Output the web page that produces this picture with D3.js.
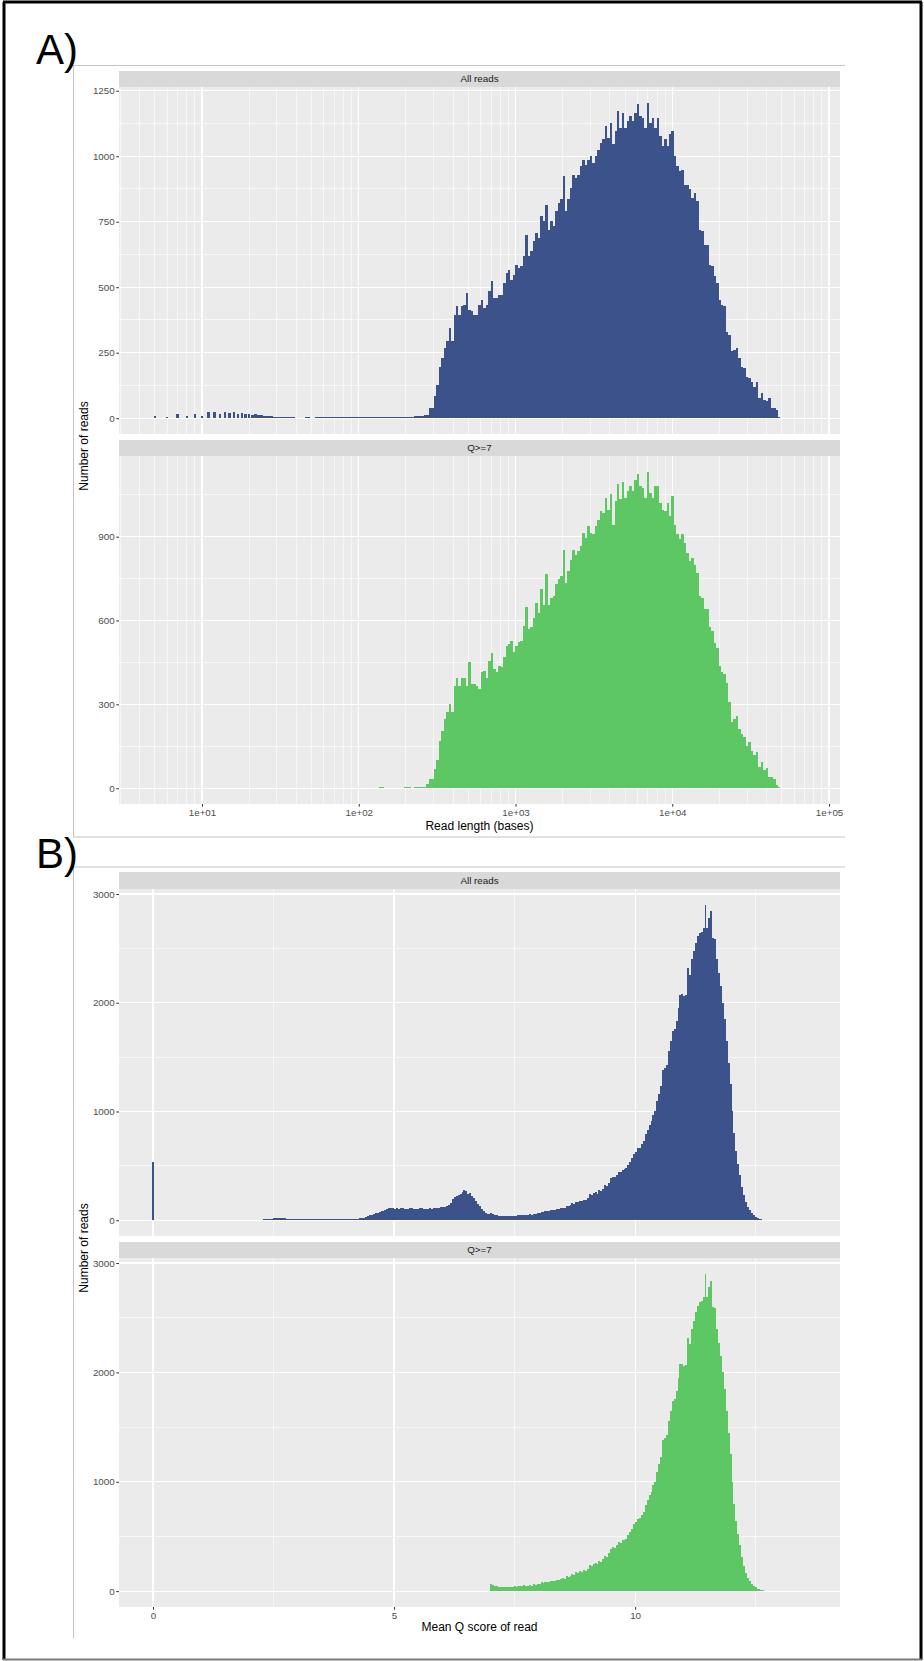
<!DOCTYPE html>
<html>
<head>
<meta charset="utf-8">
<script src="https://cdn.jsdelivr.net/npm/d3@7"></script>
<style>
body { margin: 0; background: #fff; }
svg { display: block; }
text { font-family: "Liberation Sans", Arial, Helvetica, sans-serif; }
</style>
</head>
<body>
<script>
// ---- A) read length histograms (log10 bins) ----
const lenBinStart = 1.467;   // log10 of left edge of first bin
const lenBinWidth = 0.0158;  // bin width in log10 units

// very short reads, one bar per integer length
const shortLengths = [5,6,7,8,9,10,11,12,13,14,15,16,17,18,19,20,21,22,23,24,25,26,27,28,29];
const shortAll = [10,5,18,10,17,8,22,24,16,25,20,22,18,20,16,17,14,15,12,12,10,10,8,7,6];

const lenAll = [
  6,5,5,5,4,4,4,4,0,0, 0,0,4,4,0,0,4,4,4,3, 4,4,3,4,4,4,3,4,4,4,
  4,4,4,4,4,4,5,4,4,5, 5,5,5,5,5,5,5,5,5,5, 5,5,5,6,6,6,7,7,8,9,
  13,13,38,38,83,127,197,230,268,293,
  344,293,395,427,395,427,433,478,414,408,
  395,395,433,452,420,433,484,522,459,459,
  471,471,516,554,567,528,548,586,573,580,
  618,701,618,637,675,707,688,771,752,815,
  720,752,733,790,822,835,924,790,835,879,
  930,917,930,962,987,968,987,1000,975,1000,
  1025,1051,1064,1115,1070,1127,1045,1096,1172,
  1108,1166,1108,1134,1153,1134,1166,1198,1153,1146,
  1108,1204,1127,1146,1108,1146,1076,1038,1064,1038,
  1083,1096,1000,962,943,949,892,892,873,841,
  860,828,720,713,662,662,586,580,541,516,
  452,433,427,331,318,255,261,268,229,197,
  191,159,153,140,121,140,76,96,70,64,
  76,38,38,32,6
];

const lenQ7 = [
  0,0,0,0,0,0,0,0,0,0, 0,0,0,0,0,0,0,0,0,0, 0,0,0,0,0,0,0,0,0,0,
  0,0,0,0,0,0,0,0,0,0, 0,0,3,3,0,0,0,0,0,0, 0,0,3,3,3,0,4,4,5,5,
  6,15,33,33,69,102,170,206,248,271,
  301,271,367,396,367,396,396,367,450,372,
  372,367,355,414,420,396,456,483,426,414,
  438,432,468,510,515,527,486,510,522,527,
  581,648,569,575,610,664,628,712,657,765,
  657,681,688,729,747,759,854,735,776,818,
  854,836,848,866,914,896,938,914,908,938,
  961,991,985,1039,997,1051,943,1027,1087,1033,
  1094,1039,1063,1080,1063,1104,1125,1080,1075,1039,
  1132,1057,1039,1080,1080,1021,997,991,1021,973,
  1045,943,908,890,908,878,842,812,824,800,
  771,687,681,640,640,575,563,521,503,438,
  416,408,378,307,236,248,259,212,194,182,
  152,164,134,117,131,75,93,65,71,39,
  39,33,10,3
];

const lenTicks = [10, 100, 1000, 10000, 100000];
const lenTickLabels = ["1e+01", "1e+02", "1e+03", "1e+04", "1e+05"];
const lenYTicksAll = [0, 250, 500, 750, 1000, 1250];
const lenYTicksQ7 = [0, 300, 600, 900];

// ---- B) mean Q score histograms ----
const qZero = [0];          // reads with a mean Q of 0
const qZeroCount = [540];
const qBinStart = 1.6;
const qBinWidth = 0.04;
const qAll = [
  0,3,0,0,3,0,0,3,0,3,3,0,4,3,4,5,5,
  8,10,12,14,15,18,17,20,19,18,16,17,15,14,13,12,
  12,11,12,10,11,9,10,9,10,8,9,
  8,9,7,8,9,8,7,8,9,10,8,7,8,9,8,9,10,9,8,10,11,12,14,16,
  20,25,32,40,46,52,56,62,
  70,76,82,86,92,100,108,116,112,
  105,110,104,108,112,106,100,104,108,110,104,102,106,110,108,104,100,106,110,104,108,112,115,110,118,120,125,130,140,
  160,193,210,223,235,245,260,278,270,
  239,250,223,200,177,150,132,101,85,70,60,55,
  // Q >= 7
  64,60,49,46,40,38,37,36,37,38,
  40,39,43,42,48,46,49,52,47,50,
  53,49,61,58,67,64,80,74,82,86,
  83,92,90,96,104,100,110,117,113,135,
  130,140,156,150,172,165,181,178,190,187,
  200,239,232,250,258,245,279,270,290,325,
  315,345,386,402,395,420,448,440,463,470,
  480,509,540,570,610,632,662,665,700,724,
  790,831,880,908,970,1000,1092,1160,1230,1383,
  1400,1429,1560,1644,1736,1760,1828,1950,2073,2080,
  2058,2070,2319,2257,2400,2472,2549,2610,2641,2650,
  2687,2901,2690,2782,2840,2595,2590,2400,2273,2150,
  2000,1850,1650,1450,1250,1000,800,640,520,420,
  310,230,170,120,95,65,48,34,22,15,
  10,6,4,3,
  3,3,0,3,0,3,0,0,3,0,0,3,0,0
];
const qTicks = [0, 5, 10];
const qYTicks = [0, 1000, 2000, 3000];
const qCut = 7;

// ---- page ----
const W = 924, H = 1661;
const blue = "#3B528B", green = "#5DC863";
const px0 = 119, px1 = 840;

const svg = d3.select("body").append("svg").attr("width", W).attr("height", H);

// outer frame
svg.append("line").attr("x1", 4).attr("y1", 2).attr("x2", 4).attr("y2", 1660).attr("stroke", "#000").attr("stroke-width", 3);
svg.append("line").attr("x1", 3).attr("y1", 2).attr("x2", 922).attr("y2", 2).attr("stroke", "#000").attr("stroke-width", 3);
svg.append("line").attr("x1", 921).attr("y1", 2).attr("x2", 921).attr("y2", 1660).attr("stroke", "#000").attr("stroke-width", 3);
svg.append("line").attr("x1", 3).attr("y1", 1659.5).attr("x2", 922).attr("y2", 1659.5).attr("stroke", "#7a7a7a").attr("stroke-width", 2);

// light outlines of the two pasted figures
const outline = "#c4c4c4";
[[74, 65.5, 845, 65.5], [73.5, 65, 73.5, 837], [73, 837, 845, 837],
 [73, 867, 845, 867], [73.5, 867, 73.5, 1638]].forEach(l => {
  svg.append("line").attr("x1", l[0]).attr("y1", l[1]).attr("x2", l[2]).attr("y2", l[3])
    .attr("stroke", outline).attr("stroke-width", 1);
});

svg.append("text").attr("x", 36).attr("y", 64).attr("font-size", 42).attr("fill", "#000").text("A)");
svg.append("text").attr("x", 36).attr("y", 868).attr("font-size", 42).attr("fill", "#000").text("B)");

const xLen = d3.scaleLog().domain([10 ** 0.4705, 10 ** 5.07]).range([px0, px1]);
const xQ = d3.scaleLinear().domain([-0.705, 14.25]).range([px0, px1]);

function yFor(max, top, bottom) {
  const pad = max * 0.05;
  return d3.scaleLinear().domain([-pad, max + pad]).range([bottom, top]);
}

function halfSteps(ticks, y) {
  const step = ticks[1] - ticks[0];
  const dom = y.domain();
  return [ticks[0] - step / 2].concat(ticks.map(t => t + step / 2)).filter(v => v > dom[0] && v < dom[1]);
}

function panel(o) {
  const g = svg.append("g");
  const y = o.y, x = o.x;
  // strip
  g.append("rect").attr("x", px0).attr("y", o.stripTop).attr("width", px1 - px0).attr("height", o.top - o.stripTop)
    .attr("fill", "#d9d9d9");
  g.append("text").attr("x", (px0 + px1) / 2).attr("y", (o.stripTop + o.top) / 2 + 3.4)
    .attr("text-anchor", "middle").attr("font-size", 9.8).attr("fill", "#1a1a1a").text(o.label);
  // panel
  g.append("rect").attr("x", px0).attr("y", o.top).attr("width", px1 - px0).attr("height", o.bottom - o.top)
    .attr("fill", "#ebebeb");
  const grid = g.append("g").attr("stroke", "#fff").attr("shape-rendering", "crispEdges");
  grid.selectAll(".hmin").data(halfSteps(o.yTicks, y)).join("line")
    .attr("x1", px0).attr("x2", px1).attr("y1", d => y(d)).attr("y2", d => y(d)).attr("stroke-width", 0.6);
  grid.selectAll(".vmin").data(o.xMinor).join("line")
    .attr("x1", d => x(d)).attr("x2", d => x(d)).attr("y1", o.top).attr("y2", o.bottom).attr("stroke-width", 0.6);
  grid.selectAll(".hmaj").data(o.yTicks).join("line")
    .attr("x1", px0).attr("x2", px1).attr("y1", d => y(d)).attr("y2", d => y(d)).attr("stroke-width", 1.1);
  grid.selectAll(".vmaj").data(o.xTicks).join("line")
    .attr("x1", d => x(d)).attr("x2", d => x(d)).attr("y1", o.top).attr("y2", o.bottom).attr("stroke-width", 1.1);
  // bars
  g.append("g").attr("shape-rendering", "crispEdges").selectAll("rect")
    .data(o.bins.filter(b => b.n > 0)).join("rect")
    .attr("x", b => x(b.x0)).attr("width", b => Math.max(1, x(b.x1) - x(b.x0)))
    .attr("y", b => y(b.n)).attr("height", b => y(0) - y(b.n))
    .attr("fill", o.color);
  // y axis
  const ya = g.append("g").attr("transform", `translate(${px0},0)`)
    .call(d3.axisLeft(y).tickValues(o.yTicks).tickFormat(d3.format("d")).tickSize(2.7).tickPadding(1.6));
  ya.select(".domain").remove();
  ya.selectAll("line").attr("stroke", "#333");
  ya.selectAll("text").attr("fill", "#4d4d4d").attr("font-size", 9.8).attr("font-family", null);
  // x axis
  if (o.showX) {
    const xa = g.append("g").attr("transform", `translate(0,${o.bottom})`)
      .call(d3.axisBottom(x).tickValues(o.xTicks).tickFormat((d, i) => o.xLabels[i]).tickSize(2.7).tickPadding(2.2));
    xa.select(".domain").remove();
    xa.selectAll("line").attr("stroke", "#333");
    xa.selectAll("text").attr("fill", "#4d4d4d").attr("font-size", 9.8).attr("font-family", null);
  }
}

// bins for A
const lenBins = arr => arr.map((n, i) => ({
  x0: 10 ** (lenBinStart + i * lenBinWidth), x1: 10 ** (lenBinStart + (i + 1) * lenBinWidth), n
}));
const shortBins = shortLengths.map((L, i) => ({
  x0: 10 ** (Math.log10(L) - lenBinWidth / 2), x1: 10 ** (Math.log10(L) + lenBinWidth / 2), n: shortAll[i]
}));
const binsLenAll = shortBins.concat(lenBins(lenAll));
const binsLenQ7 = lenBins(lenQ7);

const lenMinor = [];
[1, 10, 100, 1000, 10000].forEach(p => { for (let k = 2; k <= 9; k++) lenMinor.push(k * p); });
const lenMinorIn = lenMinor.filter(v => xLen(v) > px0 && xLen(v) < px1);

panel({ x: xLen, y: yFor(d3.max(binsLenAll, b => b.n), 87, 434), stripTop: 71, top: 87, bottom: 434,
  label: "All reads", bins: binsLenAll, color: blue, yTicks: lenYTicksAll,
  xTicks: lenTicks, xMinor: lenMinorIn, showX: false });
panel({ x: xLen, y: yFor(d3.max(binsLenQ7, b => b.n), 456, 804), stripTop: 440, top: 456, bottom: 804,
  label: "Q>=7", bins: binsLenQ7, color: green, yTicks: lenYTicksQ7,
  xTicks: lenTicks, xLabels: lenTickLabels, xMinor: lenMinorIn, showX: true });

// bins for B
const binsQAll = qZero.map((q, i) => ({ x0: q - qBinWidth / 2, x1: q + qBinWidth / 2, n: qZeroCount[i] }))
  .concat(qAll.map((n, i) => ({ x0: qBinStart + i * qBinWidth, x1: qBinStart + (i + 1) * qBinWidth, n })));
const binsQ7 = binsQAll.filter(b => b.x0 >= qCut - 1e-9);
const qMax = d3.max(binsQAll, b => b.n);
const qMinor = [2.5, 7.5, 12.5];

panel({ x: xQ, y: yFor(qMax, 889, 1236), stripTop: 872, top: 889, bottom: 1236,
  label: "All reads", bins: binsQAll, color: blue, yTicks: qYTicks,
  xTicks: qTicks, xMinor: qMinor, showX: false });
panel({ x: xQ, y: yFor(qMax, 1258, 1607), stripTop: 1242, top: 1258, bottom: 1607,
  label: "Q>=7", bins: binsQ7, color: green, yTicks: qYTicks,
  xTicks: qTicks, xLabels: qTicks.map(String), xMinor: qMinor, showX: true });

// axis titles
svg.append("text").attr("x", (px0 + px1) / 2).attr("y", 830).attr("text-anchor", "middle")
  .attr("font-size", 12).attr("fill", "#000").text("Read length (bases)");
svg.append("text").attr("x", (px0 + px1) / 2).attr("y", 1631).attr("text-anchor", "middle")
  .attr("font-size", 12).attr("fill", "#000").text("Mean Q score of read");
svg.append("text").attr("transform", "translate(88,446) rotate(-90)").attr("text-anchor", "middle")
  .attr("font-size", 12).attr("fill", "#000").text("Number of reads");
svg.append("text").attr("transform", "translate(88,1248) rotate(-90)").attr("text-anchor", "middle")
  .attr("font-size", 12).attr("fill", "#000").text("Number of reads");
</script>
</body>
</html>
